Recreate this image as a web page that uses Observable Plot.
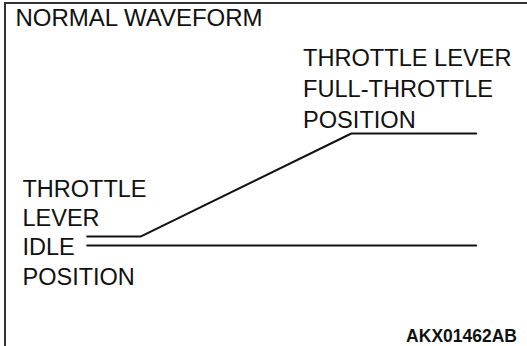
<!DOCTYPE html>
<html>
<head>
<meta charset="utf-8">
<script src="https://cdn.jsdelivr.net/npm/d3@7"></script>
<script src="https://cdn.jsdelivr.net/npm/@observablehq/plot@0.6"></script>
<style>
  html, body { margin: 0; padding: 0; background: #fff; }
  #wrap { position: relative; width: 527px; height: 346px; overflow: hidden; }
  #border { position: absolute; left: 4px; top: 2px; width: 540px; height: 360px;
            border-left: 2px solid #333; border-top: 2px solid #333; box-sizing: border-box; }
  #chart { position: absolute; left: 0; top: 0; }
</style>
</head>
<body>
<div id="wrap"><div id="border"></div><div id="chart"></div></div>
<script>
// Waveform data (time in % of sweep, voltage in V)
const signalTime = [0, 13.7, 67.9, 100];
const signalVolt = [0.4, 0.4, 5, 5];
const baseTime = [0, 100];
const baseVolt = [0, 0];

const titleText = "NORMAL WAVEFORM";
const fullLabel = "THROTTLE LEVER\nFULL-THROTTLE\nPOSITION";
const idleLabel = "THROTTLE\nLEVER\nIDLE\nPOSITION";
const codeText = "AKX01462AB";

const signal = signalTime.map((t, i) => ({t, v: signalVolt[i]}));
const base = baseTime.map((t, i) => ({t, v: baseVolt[i]}));

const font = "'Liberation Sans', Arial, Helvetica, sans-serif";

const plot = Plot.plot({
  width: 527,
  height: 346,
  marginTop: 0, marginRight: 0, marginBottom: 0, marginLeft: 0,
  x: {domain: [0, 100], range: [86.7, 475.7], axis: null},
  y: {domain: [0, 5], range: [245, 133], axis: null},
  style: {fontFamily: font, background: "transparent", overflow: "visible"},
  marks: [
    Plot.line(base, {x: "t", y: "v", stroke: "#111", strokeWidth: 2}),
    Plot.line(signal, {x: "t", y: "v", stroke: "#111", strokeWidth: 2, strokeLinejoin: "miter"}),
    Plot.text([titleText], {frameAnchor: "top-left", text: d => d, dx: 15, dy: 8.5,
      lineAnchor: "top", textAnchor: "start", fontSize: 24, fill: "#111"}),
    Plot.text([fullLabel], {frameAnchor: "top-left", text: d => d, dx: 302.5, dy: 44,
      lineAnchor: "top", textAnchor: "start", fontSize: 23.6, lineHeight: 1.3, fill: "#111"}),
    Plot.text([idleLabel], {frameAnchor: "top-left", text: d => d, dx: 22, dy: 175.5,
      lineAnchor: "top", textAnchor: "start", fontSize: 23.5, lineHeight: 1.245, fill: "#111"}),
    Plot.text([codeText], {frameAnchor: "top-left", text: d => d, dx: 516.5, dy: 329,
      lineAnchor: "top", textAnchor: "end", fontSize: 17.5, fontWeight: "bold", fill: "#111"})
  ]
});
document.getElementById("chart").appendChild(plot);
</script>
</body>
</html>
